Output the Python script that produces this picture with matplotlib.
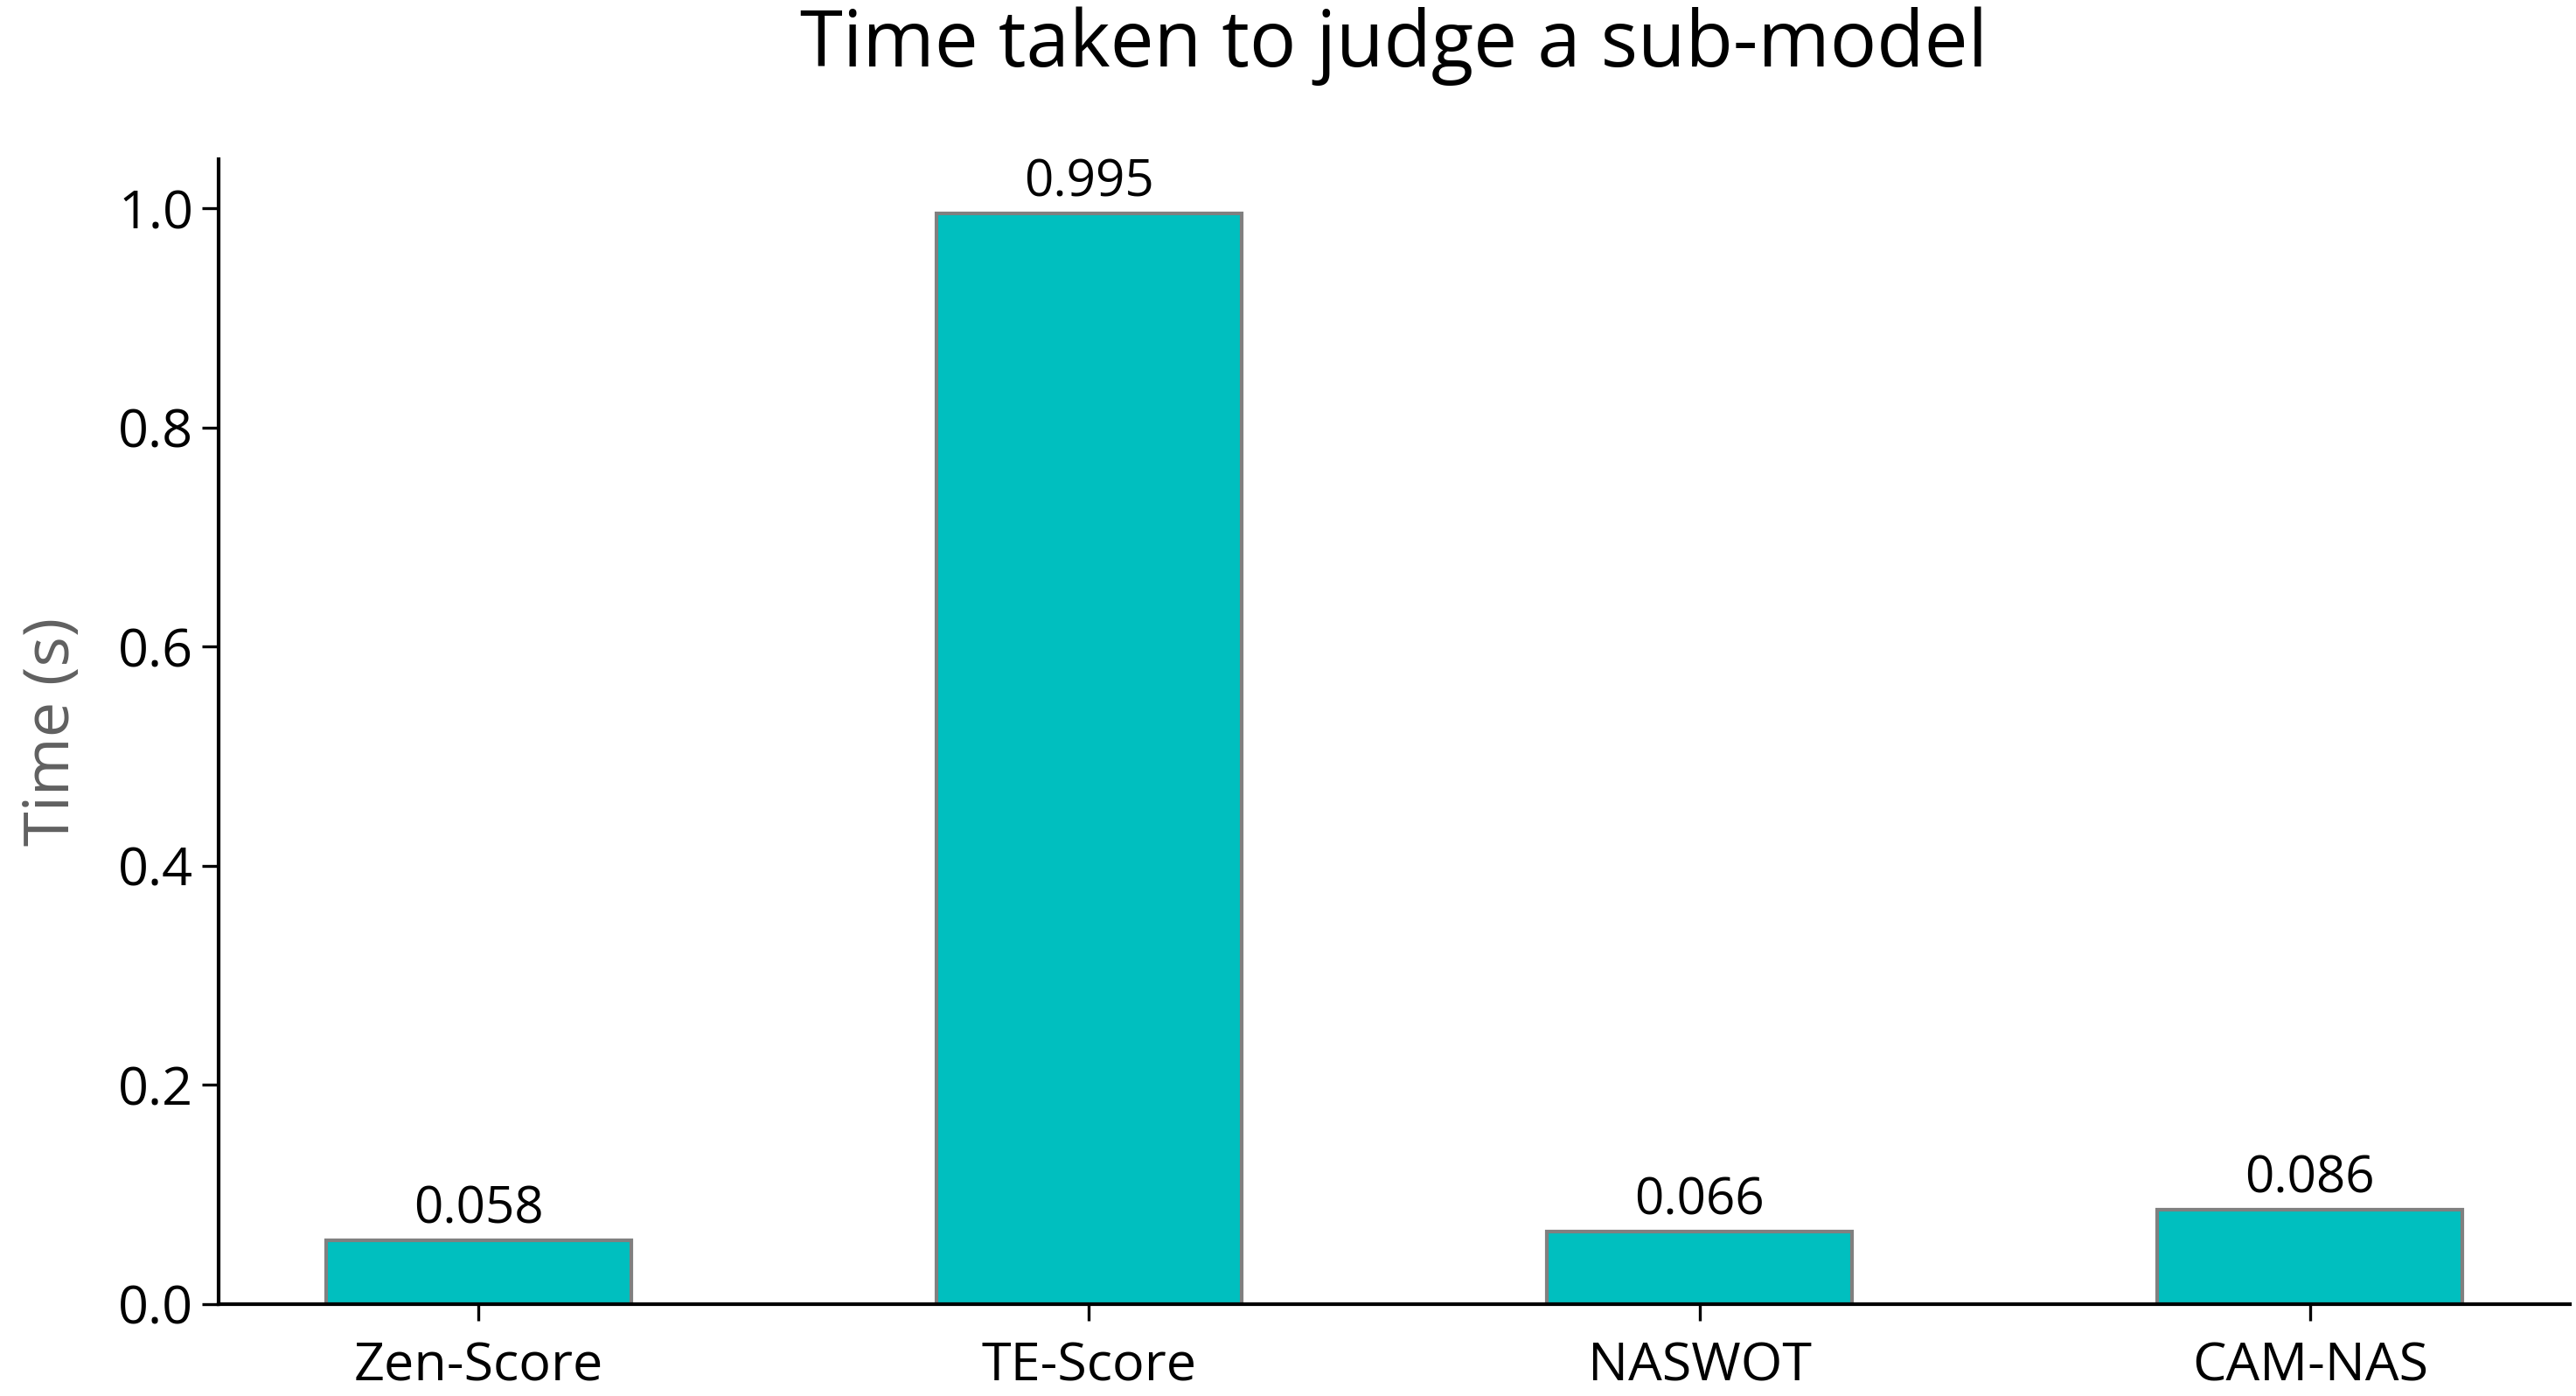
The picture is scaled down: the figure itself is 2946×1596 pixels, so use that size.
import matplotlib.pyplot as plt

# data
methods = ['Zen-Score', 'TE-Score', 'NASWOT', 'CAM-NAS']
times = [0.058, 0.995, 0.066, 0.086]

plt.rcParams['font.family'] = ['Open Sans', 'DejaVu Sans']

fig = plt.figure(figsize=(14.73, 7.98), dpi=200)
ax = fig.add_axes([0.085, 0.066, 0.9125, 0.82])

bars = ax.bar(methods, times, width=0.5, color='#00bfbf',
              edgecolor='#808080', linewidth=1.5)
ax.bar_label(bars, labels=[f'{t:.3f}' for t in times], padding=2, fontsize=21)

ax.set_title('Time taken to judge a sub-model', fontsize=32, pad=38)
ax.set_ylabel('Time (s)', fontsize=26, color='#606060', labelpad=14)
ax.set_yticks([0.0, 0.2, 0.4, 0.6, 0.8, 1.0])
ax.tick_params(axis='both', labelsize=22, length=7, width=1.2)
ax.tick_params(axis='x', pad=8)

ax.spines['top'].set_visible(False)
ax.spines['right'].set_visible(False)
ax.spines['left'].set_linewidth(1.5)
ax.spines['bottom'].set_linewidth(1.5)

plt.savefig('out.png', dpi=200)
